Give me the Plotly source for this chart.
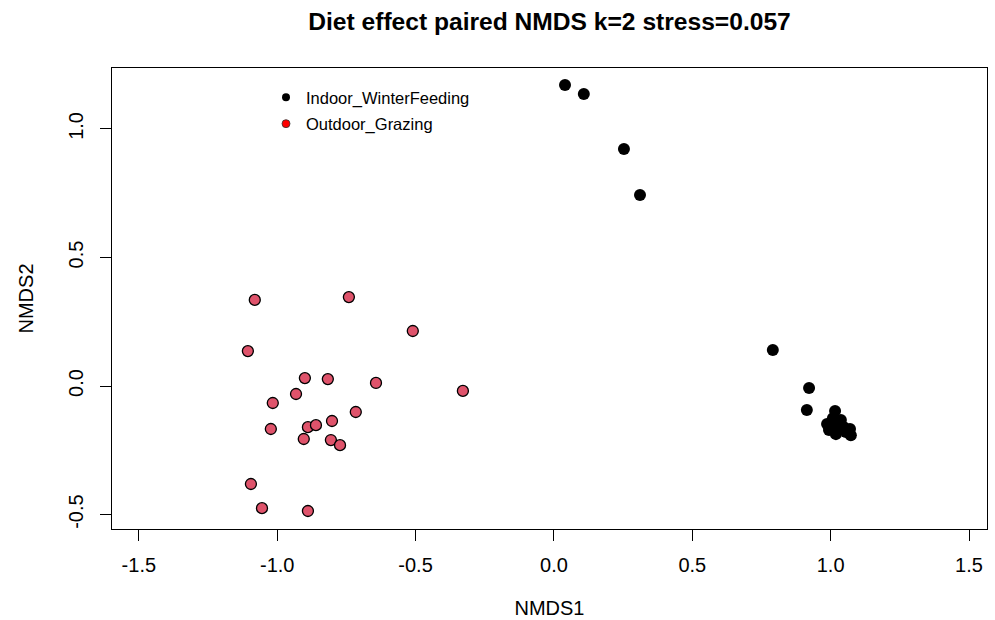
import plotly.graph_objects as go

title = "Diet effect paired NMDS k=2 stress=0.057"
groups = ["Indoor_WinterFeeding", "Outdoor_Grazing"]

indoor_x = [0.040, 0.108, 0.253, 0.311, 0.791, 0.922, 0.914, 1.016, 1.008, 0.987,
            0.994, 1.026, 1.019, 1.048, 1.055, 1.070, 1.073, 1.037]
indoor_y = [1.171, 1.136, 0.922, 0.743, 0.140, -0.008, -0.093, -0.097, -0.125, -0.148,
            -0.171, -0.152, -0.187, -0.160, -0.179, -0.167, -0.191, -0.132]

outdoor_x = [-1.081, -0.741, -0.510, -1.106, -0.900, -0.817, -0.643, -0.932, -1.016, -0.716,
             -1.023, -0.889, -0.860, -0.802, -0.904, -0.806, -0.773, -1.095, -1.055, -0.889, -0.329]
outdoor_y = [0.335, 0.346, 0.214, 0.136, 0.031, 0.027, 0.012, -0.031, -0.066, -0.101,
             -0.167, -0.160, -0.152, -0.136, -0.206, -0.210, -0.230, -0.381, -0.475, -0.486, -0.019]

x_ticks = [-1.5, -1.0, -0.5, 0.0, 0.5, 1.0, 1.5]
y_ticks = [-0.5, 0.0, 0.5, 1.0]

font = "Liberation Sans, Arial, Helvetica, sans-serif"

fig = go.Figure()
fig.add_trace(go.Scatter(x=indoor_x, y=indoor_y, mode="markers", showlegend=False,
                         marker=dict(color="black", size=12, line=dict(width=0))))
fig.add_trace(go.Scatter(x=outdoor_x, y=outdoor_y, mode="markers", showlegend=False,
                         marker=dict(color="#DF536B", size=11, line=dict(color="black", width=1.3))))
fig.add_trace(go.Scatter(x=[None], y=[None], mode="markers", name=groups[0], legendgroup="a",
                         marker=dict(color="black", size=8)))
fig.add_trace(go.Scatter(x=[None], y=[None], mode="markers", name=groups[1], legendgroup="b",
                         marker=dict(color="#FF0000", size=8, line=dict(color="#333333", width=0.8))))

axis_common = dict(showgrid=False, zeroline=False, showline=True, mirror=True,
                   linecolor="black", linewidth=1, ticks="outside", ticklen=11,
                   tickcolor="black", tickwidth=1, automargin=False,
                   tickfont=dict(family=font, size=20, color="black"))

fig.update_layout(
    width=995, height=620,
    margin=dict(l=112, r=8, t=68, b=91, autoexpand=False),
    paper_bgcolor="white", plot_bgcolor="white",
    title=dict(text="<b>" + title + "</b>", x=0.5, xref="paper", y=1 - 21 / 620, yref="container",
               xanchor="center", yanchor="middle", automargin=False,
               font=dict(family=font, size=24.6, color="black")),
    xaxis=dict(range=[-1.597, 1.565], tickvals=x_ticks,
               ticktext=[f"{v:.1f}" for v in x_ticks], ticklabelstandoff=7,
               title=dict(text="NMDS1", font=dict(family=font, size=20, color="black"), standoff=25),
               **axis_common),
    yaxis=dict(range=[-0.556, 1.237], tickvals=y_ticks,
               ticktext=[f"{v:.1f}" for v in y_ticks], tickangle=-90, ticklabelstandoff=9,
               title=dict(text="NMDS2", font=dict(family=font, size=20, color="black"), standoff=26),
               **axis_common),
    legend=dict(x=0.176, y=0.974, xanchor="left", yanchor="top", bgcolor="rgba(0,0,0,0)",
                font=dict(family=font, size=16.5, color="black"), itemwidth=30,
                tracegroupgap=2),
    showlegend=True,
)

fig.write_html("out.html", config={"displayModeBar": False},
               post_script="document.body.style.margin='0px';")
